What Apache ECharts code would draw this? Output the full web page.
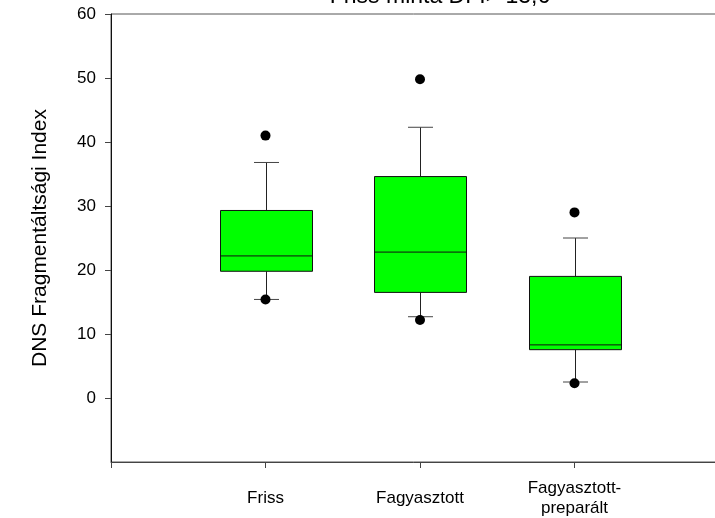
<!DOCTYPE html>
<html>
<head>
<meta charset="utf-8">
<script src="https://cdn.jsdelivr.net/npm/echarts@6/dist/echarts.min.js"></script>
<style>html,body{margin:0;padding:0;background:#fff}#c{width:715px;height:518px}</style>
</head>
<body>
<div id="c"></div>
<script>
var categories = ['', 'Friss', 'Fagyasztott', 'Fagyasztott-\npreparált', ''];
// [categoryIndex, lowerWhisker, Q1, median, Q3, upperWhisker]
var boxFriss = [1, 15.4, 19.8, 22.2, 29.3, 36.8];
var boxFagyasztott = [2, 12.7, 16.5, 22.8, 34.6, 42.3];
var boxPreparalt = [3, 2.5, 7.55, 8.3, 19.0, 25.0];
var outliers = [[1, 41.0], [1, 15.4], [2, 49.8], [2, 12.2], [3, 29.0], [3, 2.3]];
var yTicks = [0, 10, 20, 30, 40, 50, 60];

var chart = echarts.init(document.getElementById('c'), null, {renderer: 'canvas'});
var FONT = 'Liberation Sans, Arial, sans-serif';
var BOX_W = 92, CAP_W = 25;

function renderBox(params, api) {
  var x = api.value(0);
  var lo = api.coord([x, api.value(1)]);
  var q1 = api.coord([x, api.value(2)]);
  var md = api.coord([x, api.value(3)]);
  var q3 = api.coord([x, api.value(4)]);
  var hi = api.coord([x, api.value(5)]);
  var cx = Math.round(q1[0]) + 0.5;
  var lineStyle = {stroke: '#222', lineWidth: 1};
  return {
    type: 'group',
    children: [
      {type: 'line', shape: {x1: cx, y1: q3[1], x2: cx, y2: hi[1]}, style: lineStyle},
      {type: 'line', shape: {x1: cx, y1: q1[1], x2: cx, y2: lo[1]}, style: lineStyle},
      {type: 'line', shape: {x1: cx - CAP_W / 2, y1: hi[1], x2: cx + CAP_W / 2, y2: hi[1]}, style: {stroke: '#444', lineWidth: 1}},
      {type: 'line', shape: {x1: cx - CAP_W / 2, y1: lo[1], x2: cx + CAP_W / 2, y2: lo[1]}, style: {stroke: '#444', lineWidth: 1}},
      {type: 'rect', shape: {x: cx - BOX_W / 2, y: q3[1], width: BOX_W, height: q1[1] - q3[1]},
        style: {fill: '#00ff00', stroke: '#111', lineWidth: 1}},
      {type: 'line', shape: {x1: cx - BOX_W / 2, y1: md[1], x2: cx + BOX_W / 2, y2: md[1]}, style: {stroke: '#111', lineWidth: 1}}
    ]
  };
}

chart.setOption({
  animation: false,
  backgroundColor: '#fff',
  title: {
    text: 'Friss minta DFI> 13,6',
    left: 435, textAlign: 'center', top: -20,
    textStyle: {fontFamily: FONT, fontSize: 23, fontWeight: 'normal', color: '#000'}
  },
  grid: {left: 111, top: 14, bottom: 56, width: 618, outerBoundsMode: 'none', containLabel: false,
    show: true, borderColor: '#555', borderWidth: 1},
  xAxis: {
    type: 'category',
    data: categories,
    boundaryGap: false,
    axisLine: {onZero: false, lineStyle: {color: '#444', width: 1}},
    axisTick: {show: true, inside: false, length: 6, interval: 0, lineStyle: {color: '#444'}},
    axisLabel: {interval: 0, margin: 36, verticalAlign: 'middle', lineHeight: 20,
      fontFamily: FONT, fontSize: 17, color: '#000'},
    splitLine: {show: false}
  },
  yAxis: {
    type: 'value',
    min: -10, max: 60, interval: 10,
    name: 'DNS Fragmentáltsági Index',
    nameLocation: 'middle', nameGap: 60, nameRotate: 90,
    nameTextStyle: {fontFamily: FONT, fontSize: 21, color: '#000'},
    axisLine: {show: true, onZero: false, lineStyle: {color: '#111', width: 1}},
    axisTick: {show: true, length: 6, customValues: yTicks, lineStyle: {color: '#444'}},
    axisLabel: {customValues: yTicks, margin: 15, fontFamily: FONT, fontSize: 17, color: '#000'},
    splitLine: {show: false}
  },
  series: [
    {type: 'custom', renderItem: renderBox, data: [boxFriss, boxFagyasztott, boxPreparalt], z: 2,
      encode: {x: 0, y: [1, 2, 3, 4, 5]}},
    {type: 'scatter', data: outliers, symbol: 'circle', symbolSize: 10, itemStyle: {color: '#000', opacity: 1}, z: 3}
  ]
});
</script>
</body>
</html>
